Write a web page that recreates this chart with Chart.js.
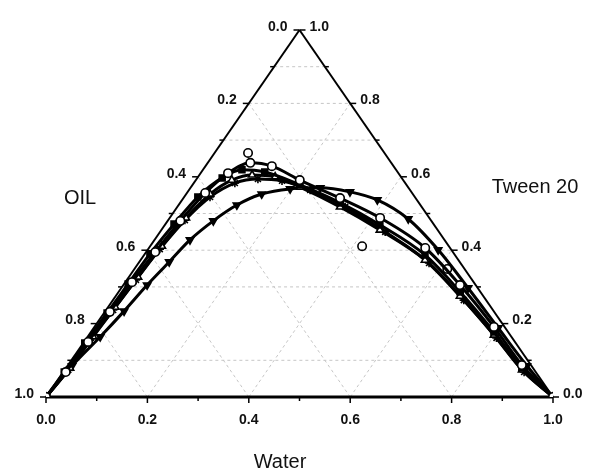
<!DOCTYPE html>
<html>
<head>
<meta charset="utf-8">
<script src="https://cdn.jsdelivr.net/npm/chart.js@4/dist/chart.umd.min.js"></script>
<style>
html, body { margin: 0; padding: 0; background: #fff; }
</style>
</head>
<body>
<canvas id="diagramaTernario" width="590" height="472"></canvas>
<script>
const aguaSerie1 = [0, 0.005, 0.008, 0.010, 0.013, 0.018, 0.025, 0.036, 0.054, 0.084, 0.131, 0.205, 0.309, 0.415, 0.545, 0.664, 0.788, 0.895, 1];
const tweenSerie1 = [0, 0.068, 0.150, 0.232, 0.313, 0.395, 0.480, 0.556, 0.610, 0.638, 0.629, 0.591, 0.542, 0.488, 0.406, 0.305, 0.191, 0.087, 0];

const aguaSerie2 = [0, 0.002, 0.003, 0.006, 0.008, 0.010, 0.017, 0.027, 0.049, 0.077, 0.125, 0.212, 0.316, 0.424, 0.554, 0.674, 0.795, 0.899, 1];
const tweenSerie2 = [0, 0.068, 0.147, 0.229, 0.308, 0.390, 0.471, 0.545, 0.597, 0.619, 0.613, 0.578, 0.529, 0.469, 0.387, 0.286, 0.177, 0.079, 0];

const aguaSerie3 = [0, 0.008, 0.011, 0.014, 0.018, 0.023, 0.032, 0.047, 0.071, 0.104, 0.152, 0.215, 0.321, 0.431, 0.561, 0.679, 0.799, 0.902, 1];
const tweenSerie3 = [0, 0.079, 0.164, 0.245, 0.327, 0.411, 0.488, 0.553, 0.591, 0.605, 0.600, 0.572, 0.518, 0.455, 0.373, 0.275, 0.169, 0.074, 0];

const aguaSerie4 = [0, 0.007, 0.009, 0.014, 0.018, 0.023, 0.033, 0.051, 0.081, 0.121, 0.171, 0.239, 0.331, 0.444, 0.573, 0.692, 0.808, 0.909, 1];
const tweenSerie4 = [0, 0.074, 0.155, 0.237, 0.319, 0.403, 0.482, 0.545, 0.583, 0.594, 0.589, 0.564, 0.518, 0.450, 0.365, 0.264, 0.161, 0.068, 0];

const aguaSerie5 = [0, 0.009, 0.025, 0.037, 0.047, 0.059, 0.070, 0.090, 0.115, 0.149, 0.198, 0.256, 0.320, 0.385, 0.472, 0.573, 0.684, 0.798, 0.906, 1];
const tweenSerie5 = [0, 0.085, 0.164, 0.234, 0.305, 0.368, 0.428, 0.480, 0.523, 0.553, 0.567, 0.570, 0.559, 0.537, 0.485, 0.401, 0.297, 0.188, 0.085, 0];

// puntos sueltos (circulos abiertos fuera de las curvas)
const aguaSueltos = [0.066, 0.418, 0.617];
const tweenSueltos = [0.665, 0.411, 0.349];

// etiquetas y rejilla
const etiquetasEje = ['0.0', '0.2', '0.4', '0.6', '0.8', '1.0'];
const valoresEje = [0, 0.2, 0.4, 0.6, 0.8, 1.0];
const ticksMenores = [0.1, 0.3, 0.5, 0.7, 0.9];
const nivelesHorizontales = [0.1, 0.3, 0.4, 0.5, 0.7, 0.8, 0.9];
const lineasDiagonales = [0.2, 0.4, 0.6, 0.8];

// coordenada ternaria -> plano (x = agua + tween/2, y = tween)
function aPuntos(agua, tween) {
    return agua.map((w, i) => ({ x: w + tween[i] / 2, y: tween[i] }));
}

function crearSerie(agua, tween, estilo, relleno, rotacion) {
    return {
        data: aPuntos(agua, tween),
        borderColor: '#000',
        borderWidth: 3,
        cubicInterpolationMode: 'monotone',
        pointStyle: estilo,
        pointRotation: rotacion || 0,
        pointRadius: 4.2,
        pointBackgroundColor: relleno,
        pointBorderColor: '#000',
        pointBorderWidth: 1.6
    };
}

const marcoTernario = {
    id: 'marcoTernario',
    beforeDatasetsDraw(chart) {
        const ctx = chart.ctx;
        const sx = chart.scales.x, sy = chart.scales.y;
        const P = (w, t) => [sx.getPixelForValue(w + t / 2), sy.getPixelForValue(t)];
        const linea = (a, b) => { ctx.beginPath(); ctx.moveTo(a[0], a[1]); ctx.lineTo(b[0], b[1]); ctx.stroke(); };

        ctx.save();
        // rejilla punteada
        ctx.strokeStyle = '#c6c6c6';
        ctx.lineWidth = 1;
        ctx.setLineDash([3, 3]);
        nivelesHorizontales.forEach(t => linea(P(0, t), P(1 - t, t)));
        lineasDiagonales.forEach(v => {
            linea(P(v, 0), P(v, 1 - v));
            linea(P(1 - v, 0), P(0, 1 - v));
        });
        ctx.setLineDash([]);

        // bordes del triangulo
        ctx.strokeStyle = '#000';
        ctx.lineWidth = 2;
        linea(P(0, 0), P(0, 1));
        linea(P(0, 1), P(1, 0));
        ctx.lineWidth = 3;
        linea(P(0, 0), P(1, 0));

        // marcas
        ctx.lineWidth = 1.5;
        const todos = valoresEje.concat(ticksMenores);
        todos.forEach(v => {
            const largo = valoresEje.includes(v) ? 6 : 4;
            let p = P(v, 0);
            linea(p, [p[0], p[1] + largo]);
            p = P(0, 1 - v);
            linea(p, [p[0] - largo, p[1]]);
            p = P(1 - v, v);
            linea(p, [p[0] + largo, p[1]]);
        });

        // etiquetas numericas
        ctx.fillStyle = '#111';
        ctx.font = 'bold 14px "Liberation Sans", Arial, sans-serif';
        valoresEje.forEach((v, i) => {
            let p = P(v, 0);
            ctx.textAlign = 'center';
            ctx.textBaseline = 'top';
            ctx.fillText(etiquetasEje[i], p[0], p[1] + 16);

            p = P(0, 1 - v);
            ctx.textAlign = 'right';
            ctx.textBaseline = 'middle';
            ctx.fillText(etiquetasEje[i], p[0] - 12, p[1] - 3);

            p = P(1 - v, v);
            ctx.textAlign = 'left';
            ctx.fillText(etiquetasEje[i], p[0] + 10, p[1] - 3);
        });

        // titulos de los ejes
        ctx.font = '20px "Liberation Sans", Arial, sans-serif';
        ctx.textAlign = 'center';
        ctx.fillText('OIL', 80, 198);
        ctx.fillText('Tween 20', 535, 187);
        ctx.fillText('Water', 280, 462);
        ctx.restore();
    }
};

const configuracion = {
    type: 'line',
    data: {
        datasets: [
            crearSerie(aguaSerie1, tweenSerie1, 'circle', '#fff'),
            crearSerie(aguaSerie2, tweenSerie2, 'rect', '#000'),
            crearSerie(aguaSerie3, tweenSerie3, 'triangle', '#fff'),
            crearSerie(aguaSerie4, tweenSerie4, 'star', '#000'),
            crearSerie(aguaSerie5, tweenSerie5, 'triangle', '#000', 180),
            {
                data: aPuntos(aguaSueltos, tweenSueltos),
                showLine: false,
                pointStyle: 'circle',
                pointRadius: 4.2,
                pointBackgroundColor: '#fff',
                pointBorderColor: '#000',
                pointBorderWidth: 1.6
            }
        ]
    },
    options: {
        responsive: false,
        animation: false,
        devicePixelRatio: 1,
        layout: { padding: { left: 46, right: 37, top: 30, bottom: 75 } },
        plugins: { legend: { display: false }, tooltip: { enabled: false } },
        scales: {
            x: { type: 'linear', min: 0, max: 1, display: false },
            y: { type: 'linear', min: 0, max: 1, display: false }
        }
    },
    plugins: [marcoTernario]
};

new Chart(document.getElementById('diagramaTernario'), configuracion);
</script>
</body>
</html>
